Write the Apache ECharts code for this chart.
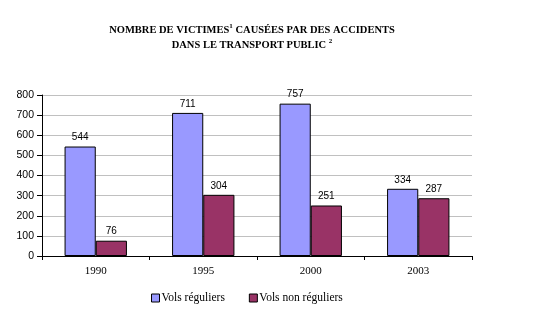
<!DOCTYPE html>
<html>
<head>
<meta charset="utf-8">
<script src="https://cdn.jsdelivr.net/npm/echarts@6/dist/echarts.min.js"></script>
<style>
  html, body { margin: 0; padding: 0; background: #fff; }
  #chart { width: 535px; height: 325px; }
</style>
</head>
<body>
<div id="chart"></div>
<script>
// Years on the category axis
const years = ['1990', '1995', '2000', '2003'];
// Victims on scheduled flights
const volsReguliers = [544, 711, 757, 334];
// Victims on non-scheduled flights
const volsNonReguliers = [76, 304, 251, 287];
// Value-axis ticks
const yTicks = [0, 100, 200, 300, 400, 500, 600, 700, 800];

const serif = '"Liberation Serif", "Times New Roman", serif';
const sans = '"Liberation Sans", Arial, sans-serif';

const chart = echarts.init(document.getElementById('chart'), null, { renderer: 'canvas' });

const labelStyle = {
  show: true,
  position: 'top',
  distance: 4,
  color: '#000',
  fontFamily: sans,
  fontSize: 10
};

chart.setOption({
  animation: false,
  backgroundColor: '#fff',
  title: {
    left: 247,
    top: 18,
    textAlign: 'center',
    text: '{t|NOMBRE DE VICTIMES}{s|1}{t| CAUSÉES PAR DES ACCIDENTS}\n{t|DANS LE TRANSPORT PUBLIC }{s|2}',
    textStyle: {
      rich: {
        t: { fontFamily: serif, fontWeight: 'bold', fontSize: 10.5, color: '#000', lineHeight: 15 },
        s: { fontFamily: serif, fontWeight: 'bold', fontSize: 7, color: '#000', verticalAlign: 'top', padding: [0, 0, 6, 0], lineHeight: 15 }
      }
    }
  },
  legend: {
    bottom: 16,
    left: 146,
    itemWidth: 8,
    itemHeight: 8,
    itemGap: 24,
    icon: 'rect',
    textStyle: { fontFamily: serif, fontSize: 11.5, color: '#000', padding: [0, 0, 0, -3] },
    data: [
      { name: 'Vols réguliers', itemStyle: { borderColor: '#000', borderWidth: 1 } },
      { name: 'Vols non réguliers', itemStyle: { borderColor: '#000', borderWidth: 1 } }
    ]
  },
  grid: { left: 42, right: 63, top: 95, bottom: 69, containLabel: false },
  xAxis: {
    type: 'category',
    data: years,
    axisLine: { lineStyle: { color: '#000', width: 1 } },
    axisTick: { show: true, length: 4, inside: false, lineStyle: { color: '#000' } },
    axisLabel: { color: '#000', fontFamily: serif, fontSize: 11, margin: 10 },
    splitLine: { show: false }
  },
  yAxis: {
    type: 'value',
    min: yTicks[0],
    max: yTicks[yTicks.length - 1],
    interval: 100,
    axisLine: { show: true, lineStyle: { color: '#000', width: 1 } },
    axisTick: { show: true, length: 5, lineStyle: { color: '#000' } },
    axisLabel: { color: '#000', fontFamily: sans, fontSize: 10.5, margin: 8 },
    splitLine: { show: true, lineStyle: { color: '#c0c0c0', width: 1 } }
  },
  series: [
    {
      name: 'Vols réguliers',
      type: 'bar',
      data: volsReguliers,
      barGap: '0%',
      barCategoryGap: '42%',
      itemStyle: { color: '#9999ff', borderColor: '#000', borderWidth: 1 },
      label: labelStyle
    },
    {
      name: 'Vols non réguliers',
      type: 'bar',
      data: volsNonReguliers,
      itemStyle: { color: '#993366', borderColor: '#000', borderWidth: 1 },
      label: labelStyle
    }
  ]
});
</script>
</body>
</html>
